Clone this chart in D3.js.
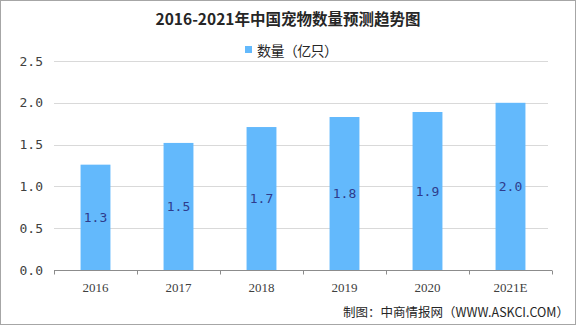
<!DOCTYPE html>
<html><head><meta charset="utf-8">
<script src="https://cdn.jsdelivr.net/npm/d3@7"></script>
<style>body{margin:0;background:#fff}svg{display:block}</style>
</head><body>
<script>
const categories = ["2016","2017","2018","2019","2020","2021E"];
const values = [1.26, 1.52, 1.71, 1.83, 1.89, 2.0];
const labels = ["1.3","1.5","1.7","1.8","1.9","2.0"];
const yTicks = [0, 0.5, 1.0, 1.5, 2.0, 2.5];
const title = "2016-2021年中国宠物数量预测趋势图";
const seriesName = "数量（亿只）";
const source = "制图：中商情报网（WWW.ASKCI.COM）";

const W = 576, H = 326;
const m = {l:54, r:24, t:61, b:56};
const svg = d3.select("body").append("svg").attr("width", W).attr("height", H);
svg.append("rect").attr("x",0.5).attr("y",0.5).attr("width",W-1).attr("height",H-2)
  .attr("fill","#fff").attr("stroke","#a6a6a6");

const x = d3.scaleBand().domain(categories).range([m.l, W-m.r]).paddingInner(0.64).paddingOuter(0.32);
const y = d3.scaleLinear().domain([0,2.5]).range([H-m.b, m.t]);
const font = "SimSun, 'Noto Sans CJK SC', sans-serif";

// grid
svg.append("g").selectAll("line").data(yTicks.slice(1)).join("line")
  .attr("x1", m.l).attr("x2", W-m.r-4).attr("y1", d=>Math.round(y(d))+0.5).attr("y2", d=>Math.round(y(d))+0.5)
  .attr("stroke","#d9d9d9");

// y labels
svg.append("g").selectAll("text").data(yTicks).join("text")
  .attr("x", 43).attr("y", d=>y(d)).attr("dy","0.35em").attr("text-anchor","end")
  .attr("font-family","'DejaVu Sans Mono', monospace").attr("font-size",13).attr("fill","#404040")
  .text(d=>d.toFixed(1));

// bars
svg.append("g").selectAll("rect").data(values).join("rect")
  .attr("x",(d,i)=>x(categories[i])).attr("width",x.bandwidth())
  .attr("y",d=>y(d)).attr("height",d=>y(0)-y(d)).attr("fill","#63b9fc");

// bar labels
svg.append("g").selectAll("text").data(values).join("text")
  .attr("x",(d,i)=>x(categories[i])+x.bandwidth()/2).attr("y",d=>(y(d)+y(0))/2)
  .attr("dy","0.35em").attr("text-anchor","middle")
  .attr("font-family","'DejaVu Sans Mono', monospace").attr("font-size",13).attr("fill","#2f3c8c")
  .text((d,i)=>labels[i]);

// x axis
const xa = svg.append("g").attr("transform",`translate(0,${Math.round(y(0))+0.5})`);
xa.append("line").attr("x1",m.l).attr("x2",W-m.r).attr("stroke","#8c8c8c");
const bounds = [m.l].concat(categories.map(c=>x(c)+x.bandwidth()+x.step()*x.paddingInner()/2));
bounds[bounds.length-1] = W-m.r;
xa.selectAll("line.t").data(bounds).join("line").attr("class","t")
  .attr("x1",d=>Math.round(d)+0.5).attr("x2",d=>Math.round(d)+0.5).attr("y1",0).attr("y2",4).attr("stroke","#8c8c8c");
xa.selectAll("text").data(categories).join("text")
  .attr("x",d=>x(d)+x.bandwidth()/2).attr("y",21).attr("text-anchor","middle")
  .attr("font-family","'Liberation Serif', serif").attr("font-size",13).attr("fill","#404040").text(d=>d);

// title
svg.append("text").attr("x",288).attr("y",25).attr("text-anchor","middle")
  .attr("font-family",font).attr("font-weight","bold").attr("font-size",15.5).attr("fill","#262626").text(title);

// legend
svg.append("rect").attr("x",245).attr("y",46).attr("width",7).attr("height",7).attr("fill","#63b9fc");
svg.append("text").attr("x",257).attr("y",56).attr("font-family",font).attr("font-size",14)
  .attr("textLength",81).attr("lengthAdjust","spacing").attr("fill","#262626").text(seriesName);

// source
svg.append("text").attr("x",569).attr("y",317).attr("text-anchor","end")
  .attr("font-family",font).attr("font-size",12.5).attr("fill","#262626").text(source);
</script>
</body></html>
